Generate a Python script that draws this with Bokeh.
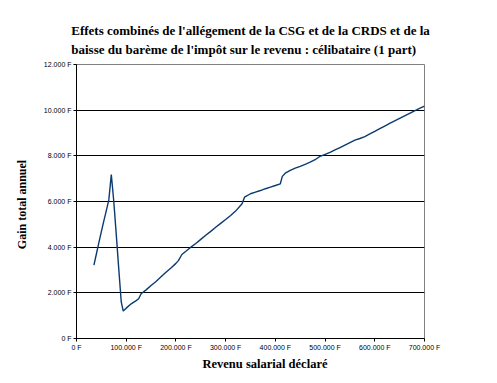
from bokeh.plotting import figure
from bokeh.models import FixedTicker, Title
from bokeh.embed import file_html
from bokeh.resources import INLINE

# ---- data ----
revenu = [35000, 40000, 45000, 50000, 55000, 60000, 65000, 70000, 75000, 80000,
          85000, 90000, 94000, 100000, 110000, 120000, 125000, 130000, 140000, 150000,
          160000, 170000, 180000, 190000, 200000, 205000, 212000, 220000, 230000, 240000,
          250000, 260000, 270000, 280000, 290000, 300000, 310000, 320000, 333000, 338000,
          350000, 360000, 370000, 380000, 390000, 400000, 410000, 414000, 420000, 430000,
          440000, 450000, 460000, 470000, 480000, 490000, 500000, 510000, 520000, 530000,
          540000, 550000, 560000, 570000, 580000, 590000, 600000, 610000, 620000, 630000,
          640000, 650000, 660000, 670000, 680000, 690000, 700000]
gain = [3210, 3700, 4200, 4680, 5150, 5600, 6070, 7180, 6000, 4550,
        3050, 1600, 1200, 1330, 1520, 1660, 1740, 1960, 2130, 2320,
        2500, 2700, 2900, 3090, 3290, 3410, 3680, 3820, 4000, 4160,
        4340, 4520, 4690, 4870, 5040, 5210, 5390, 5580, 5900, 6190,
        6340, 6410, 6480, 6560, 6630, 6700, 6775, 7100, 7240, 7360,
        7460, 7540, 7630, 7720, 7830, 7980, 8060, 8150, 8257, 8364,
        8471, 8578, 8685, 8760, 8845, 8960, 9075, 9190, 9305, 9420,
        9530, 9640, 9750, 9860, 9969, 10076, 10180]

x_ticks = [0, 100000, 200000, 300000, 400000, 500000, 600000, 700000]
x_tick_labels = ["0 F", "100.000 F", "200.000 F", "300.000 F", "400.000 F",
                 "500.000 F", "600.000 F", "700.000 F"]
y_ticks = [0, 2000, 4000, 6000, 8000, 10000, 12000]
y_tick_labels = ["0 F", "2.000 F", "4.000 F", "6.000 F", "8.000 F", "10.000 F", "12.000 F"]

title_text = ("Effets combinés de l'allégement de la CSG et de la CRDS et de la\n"
              "baisse du barème de l'impôt sur le revenu : célibataire (1 part)")
x_label = "Revenu salarial déclaré"
y_label = "Gain  total  annuel"

SERIF = "Liberation Serif"
SANS = "Liberation Sans"

p = figure(width=497, height=383, x_range=(0, 700000), y_range=(0, 12000),
           output_backend="svg", toolbar_location=None,
           min_border_left=76, min_border_right=73, min_border_top=64,
           min_border_bottom=45)

p.background_fill_color = "white"
p.border_fill_color = "white"
p.outline_line_color = "#808080"
p.outline_line_width = 1

# title
p.title.text = title_text
p.title.align = "center"
p.title.text_font = SERIF
p.title.text_font_style = "bold"
p.title.text_font_size = "13px"
p.title.text_color = "black"
p.title.standoff = 15
p.title.text_line_height = 1.27

# line
p.line(revenu, gain, line_color="#0b3a6f", line_width=1.4)

# axes
p.xaxis.ticker = FixedTicker(ticks=x_ticks)
p.yaxis.ticker = FixedTicker(ticks=y_ticks)
p.xaxis.major_label_overrides = {t: l for t, l in zip(x_ticks, x_tick_labels)}
p.yaxis.major_label_overrides = {t: l for t, l in zip(y_ticks, y_tick_labels)}
for ax in (p.xaxis[0], p.yaxis[0]):
    ax.axis_line_color = "black"
    ax.axis_line_width = 1
    ax.major_tick_line_color = "black"
    ax.major_tick_in = 0
    ax.major_tick_out = 3
    ax.minor_tick_line_color = None
    ax.major_label_text_font = SANS
    ax.major_label_text_font_size = "7px"
    ax.major_label_text_color = "black"
    ax.major_label_standoff = 2

p.yaxis.axis_label = y_label
p.yaxis.axis_label_text_font = SERIF
p.yaxis.axis_label_text_font_style = "bold"
p.yaxis.axis_label_text_font_size = "12px"
p.yaxis.axis_label_text_color = "black"
p.yaxis.axis_label_standoff = 12

p.xgrid.grid_line_color = None
p.ygrid.grid_line_color = "black"
p.ygrid.grid_line_width = 1

xt = Title(text=x_label, align="left", offset=126, text_font=SERIF,
           text_font_style="bold", text_font_size="12.5px", text_color="black",
           standoff=2)
p.add_layout(xt, "below")

open("out.html", "w").write(file_html(p, INLINE))
